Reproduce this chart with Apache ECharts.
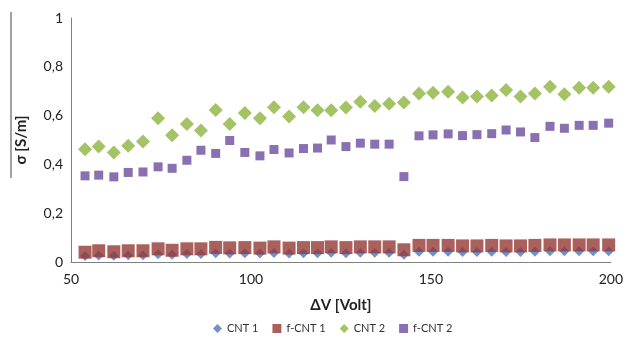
<!DOCTYPE html>
<html>
<head>
<meta charset="utf-8">
<script src="https://cdn.jsdelivr.net/npm/echarts@6/dist/echarts.min.js"></script>
<style>
  html, body { margin: 0; padding: 0; background: #fff; }
  #chart { width: 626px; height: 350px; }
</style>
</head>
<body>
<div id="chart"></div>
<script>
// voltage steps
const volts = [53.9, 57.7, 61.9, 65.9, 70.0, 74.2, 78.1, 82.2, 86.1, 90.2, 94.1, 98.3,
    102.5, 106.4, 110.6, 114.6, 118.5, 122.3, 126.4, 130.4, 134.4, 138.4, 142.5, 146.7,
    150.6, 154.8, 158.8, 162.8, 166.9, 170.9, 174.9, 178.9, 183.1, 187.1, 191.2, 195.1, 199.4];

const cnt1 = [0.025, 0.027, 0.026, 0.028, 0.028, 0.032, 0.030, 0.033, 0.033, 0.036,
    0.035, 0.036, 0.035, 0.037, 0.035, 0.036, 0.036, 0.038, 0.036, 0.038,
    0.038, 0.038, 0.030, 0.042, 0.042, 0.042, 0.041, 0.041, 0.042, 0.041,
    0.041, 0.042, 0.044, 0.044, 0.044, 0.044, 0.044];

const fcnt1 = [0.040, 0.046, 0.042, 0.046, 0.046, 0.054, 0.048, 0.054, 0.054, 0.060, 0.058,
    0.059, 0.057, 0.062, 0.057, 0.059, 0.059, 0.062, 0.059, 0.062, 0.062, 0.062, 0.050, 0.068,
    0.068, 0.068, 0.066, 0.066, 0.068, 0.066, 0.066, 0.068, 0.070, 0.070, 0.070, 0.070, 0.070];

const cnt2 = [0.462, 0.473, 0.449, 0.476, 0.494, 0.589, 0.519, 0.566, 0.539, 0.623, 0.566,
    0.611, 0.589, 0.634, 0.596, 0.634, 0.622, 0.622, 0.633, 0.657, 0.639, 0.649, 0.654,
    0.691, 0.694, 0.698, 0.674, 0.678, 0.682, 0.705, 0.678, 0.691, 0.718, 0.687, 0.714, 0.714, 0.718];

const fcnt2 = [0.353, 0.356, 0.349, 0.367, 0.369, 0.390, 0.384, 0.417, 0.458, 0.445, 0.498,
    0.449, 0.435, 0.461, 0.447, 0.465, 0.467, 0.500, 0.473, 0.487, 0.483, 0.483, 0.350,
    0.517, 0.521, 0.525, 0.518, 0.522, 0.526, 0.541, 0.533, 0.510, 0.556, 0.548, 0.560, 0.560, 0.569];

const names = ['CNT 1', 'f-CNT 1', 'CNT 2', 'f-CNT 2'];

function pairs(ys) {
    let d = [];
    for (let i = 0; i < volts.length; i++) {
        d.push([volts[i], ys[i]]);
    }
    return d;
}

const font = 'Lato, "Noto Sans", sans-serif';

let myChart = echarts.init(document.getElementById('chart'), null, { renderer: 'canvas' });
let option = {
    animation: false,
    textStyle: { fontFamily: font },
    grid: { left: 71, right: 12, top: 18, bottom: 88 },
    legend: {
        data: [
            { name: names[0], icon: 'diamond' },
            { name: names[1], icon: 'rect' },
            { name: names[2], icon: 'diamond' },
            { name: names[3], icon: 'rect' }
        ],
        left: 208,
        top: 318,
        itemWidth: 9,
        itemHeight: 9,
        itemGap: 14,
        textStyle: { fontSize: 11, color: '#333', fontFamily: font }
    },
    xAxis: {
        type: 'value',
        min: 50,
        max: 200,
        interval: 50,
        name: 'ΔV [Volt]',
        nameLocation: 'middle',
        nameGap: 36,
        nameTextStyle: { fontSize: 15, fontWeight: 'bold', color: '#222', fontFamily: font },
        axisLine: { lineStyle: { color: '#7f7f7f', width: 1 } },
        axisTick: { show: false },
        splitLine: { show: false },
        axisLabel: { fontSize: 14, color: '#222', margin: 10, fontFamily: font }
    },
    yAxis: {
        type: 'value',
        min: 0,
        max: 1,
        interval: 0.2,
        name: 'σ [S/m]',
        nameLocation: 'middle',
        nameRotate: 90,
        nameGap: 42,
        nameTextStyle: { fontSize: 15, fontWeight: 'bold', color: '#222', fontFamily: font },
        axisLine: { show: true, lineStyle: { color: '#7f7f7f', width: 1 } },
        axisTick: { show: false },
        splitLine: { show: false },
        axisLabel: {
            fontSize: 14, color: '#222', margin: 8, fontFamily: font,
            formatter: v => String(Math.round(v * 10) / 10).replace('.', ',')
        }
    },
    graphic: [
        {
            type: 'line',
            shape: { x1: 11, y1: 12, x2: 11, y2: 178 },
            style: { stroke: '#444', lineWidth: 1 }
        }
    ],
    series: [
        {
            name: names[0], type: 'scatter', symbol: 'diamond', symbolSize: 10,
            itemStyle: { color: '#4a77c2' }, data: pairs(cnt1)
        },
        {
            name: names[1], type: 'scatter', symbol: 'rect', symbolSize: 13,
            itemStyle: { color: '#953a36' }, data: pairs(fcnt1)
        },
        {
            name: names[2], type: 'scatter', symbol: 'diamond', symbolSize: 14,
            itemStyle: { color: '#8cb43f' }, data: pairs(cnt2)
        },
        {
            name: names[3], type: 'scatter', symbol: 'rect', symbolSize: 9,
            itemStyle: { color: '#6b4e9e' }, data: pairs(fcnt2)
        }
    ]
};
option && myChart.setOption(option);
</script>
</body>
</html>
